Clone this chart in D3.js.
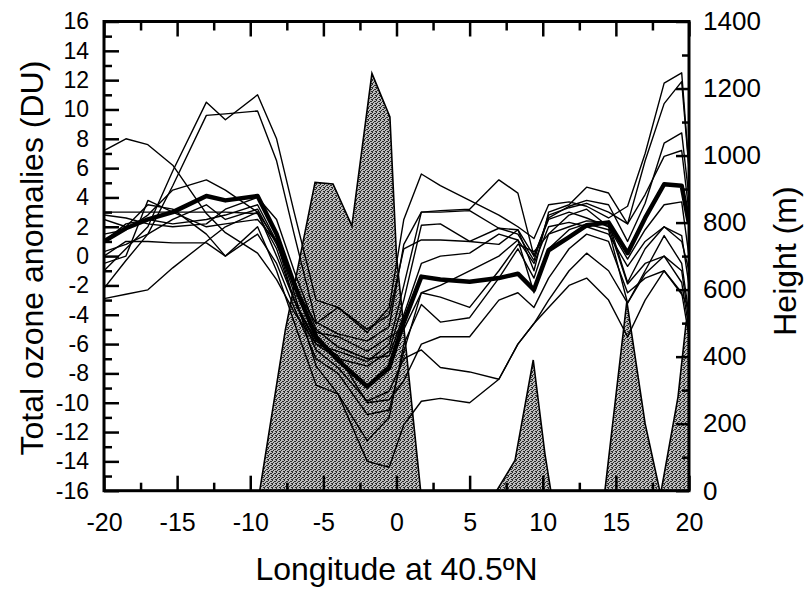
<!DOCTYPE html>
<html>
<head>
<meta charset="utf-8">
<script src="https://cdn.jsdelivr.net/npm/d3@7"></script>
<style>
  body { margin: 0; background: #fff; }
  svg text { font-family: "Liberation Sans", Arial, sans-serif; fill: #000; }
</style>
</head>
<body>
<svg width="804" height="594"></svg>
<script>
// longitudes where the ozone anomaly profiles are sampled
var lons = [-20, -18.5, -17, -15.3, -13, -11.7, -9.5, -8.2, -7, -5.5, -4, -2, -0.5, 0.5, 1.7, 3, 5, 7, 8.3, 9.4, 10.4, 11.8, 13, 14.5, 15.8, 17, 18.3, 19.5, 20];

// individual profiles (DU)
var s01 = [7.2, 8.0, 7.6, 6.2, 2.9, 1.6, 0.2, -1.6, -3.8, -6.0, -6.5, -7.2, -6.0, -2.0, 3.0, 3.1, 3.2, 5.2, 4.3, 0.0, 2.6, 3.4, 3.8, 3.5, 1.0, 3.6, 7.7, 8.4, 4.0];
var s02 = [-1.0, 0.5, 2.0, 5.8, 10.5, 9.3, 11.0, 8.0, 3.0, -3.0, -3.5, -5.2, -3.5, 2.5, 5.6, 4.8, 3.8, 2.8, 2.0, 1.2, 3.5, 3.7, 3.4, 2.6, 3.4, 7.0, 11.8, 12.5, 6.0];
var s03 = [-2.2, -0.3, 1.5, 4.8, 9.6, 9.7, 9.9, 6.5, 1.5, -4.5, -5.3, -5.8, -4.8, 0.8, 3.0, 3.0, 3.1, 1.9, 1.5, -0.3, 2.8, 3.3, 3.6, 3.0, 2.2, 6.5, 10.4, 11.9, 5.9];
var s04 = [-2.9, -2.6, -2.3, -0.8, 1.0, 2.0, 3.0, 1.0, -2.5, -7.5, -9.4, -14.0, -14.4, -11.5, -9.9, -9.7, -10.0, -8.4, -6.0, -4.6, -3.5, -2.0, -1.5, -3.0, -5.5, -3.0, -1.0, -2.5, -5.5];
var s05 = [3.0, 3.0, 3.0, 3.0, 3.0, 3.0, 2.9, 0.5, -3.0, -6.4, -7.6, -9.9, -9.2, -7.0, -6.4, -7.6, -7.9, -8.4, -6.0, -4.6, -3.0, -1.0, 0.2, -1.0, -3.2, -1.0, 1.4, -0.5, -4.0];
var s06 = [0.0, 1.0, 1.0, 0.9, 0.9, 0.0, 1.5, -0.5, -3.5, -7.0, -8.0, -10.8, -10.5, -6.5, -2.5, -2.0, -1.0, 0.0, 1.1, -0.5, 2.0, 2.3, 2.0, 1.5, -0.7, 1.0, 2.0, 1.0, -1.0];
var s07 = [1.5, 1.8, 2.8, 4.5, 5.2, 4.5, 3.0, 0.0, -3.0, -6.0, -7.0, -7.5, -6.5, -3.0, 2.1, 2.2, 1.0, 1.9, 1.8, -1.0, 3.0, 3.5, 4.7, 4.3, 2.2, 4.2, 6.8, 7.2, 3.0];
var s08 = [0.3, 0.8, 1.5, 2.5, 3.5, 2.5, 3.2, 0.8, -2.0, -5.2, -5.5, -6.5, -5.5, -5.0, -2.5, -2.8, -3.5, -1.0, 0.8, 0.3, 1.5, 2.0, 2.4, 2.3, -1.8, 0.5, 2.0, 1.4, -2.0];
var s09 = [2.5, 2.0, 3.5, 3.2, 1.5, 0.0, 2.0, -1.0, -4.5, -8.8, -9.4, -12.6, -11.0, -6.0, -3.3, -4.5, -4.2, -1.5, 0.5, -1.5, 1.5, 2.8, 3.2, 2.0, -1.9, -0.5, 0.0, -1.8, -5.0];
var s10 = [1.0, 2.2, 2.5, 2.2, 2.5, 2.8, 3.5, 1.0, -2.0, -4.6, -3.5, -5.0, -4.0, 0.5, 1.1, 1.1, 1.0, 0.8, 1.8, 0.0, 2.5, 3.0, 2.6, 2.0, -0.2, 1.8, 3.5, 3.7, 0.0];
var s11 = [2.8, 2.6, 2.2, 2.0, 2.2, 3.2, 4.0, 2.5, -1.0, -5.0, -6.2, -7.0, -6.8, -4.0, -0.5, 0.0, 0.2, 1.5, 1.1, -2.5, 0.5, 1.8, 2.2, 1.8, -3.2, -1.2, 0.0, -1.0, -4.5];
var s12 = [-0.5, 0.0, 3.8, 3.0, 2.0, 2.2, 2.5, 1.0, -3.0, -5.8, -6.8, -10.0, -9.8, -8.5, -6.0, -5.5, -5.5, -3.0, -2.5, -3.5, -1.5, 0.5, 1.5, 1.0, -2.5, -1.5, -1.0, -2.6, -3.5];

// mean profile (thick line)
var meanLine = [1.0, 1.9, 2.5, 3.0, 4.1, 3.8, 4.1, 1.5, -1.9, -5.5, -7.1, -8.9, -7.6, -4.5, -1.4, -1.6, -1.75, -1.5, -1.2, -2.3, 0.4, 1.3, 2.1, 2.3, 0.2, 2.6, 4.9, 4.8, 2.2];

// terrain height along 40.5N (m)
var terrainLon = [-20, -9.35, -7.6, -5.57, -4.34, -3.05, -1.68, -0.45, 0.0, 1.65, 6.85, 8.1, 9.35, 10.15, 10.55, 14.25, 15.75, 17.0, 18.0, 18.1, 19.25, 19.8, 20];
var terrainH = [0, 0, 480, 920, 915, 790, 1245, 1115, 700, 0, 0, 90, 390, 110, 0, 0, 565, 200, 0, 0, 280, 500, 530];

var lonTicks = [-20, -15, -10, -5, 0, 5, 10, 15, 20];
var duTicks = d3.range(-16, 17, 2);
var hTicks = [0, 200, 400, 600, 800, 1000, 1200, 1400];

var profiles = [s01, s02, s03, s04, s05, s06, s07, s08, s09, s10, s11, s12];

var svg = d3.select("svg");
var L = 104, R = 689, T = 21.5, B = 490.7;

var x = d3.scaleLinear().domain([-20, 20]).range([L, R]);
var y = d3.scaleLinear().domain([-16, 16]).range([B, T]);
var yH = d3.scaleLinear().domain([0, 1400]).range([B, T]);

// halftone-ish pattern for the terrain
var defs = svg.append("defs");
var pat = defs.append("pattern").attr("id", "ht")
    .attr("width", 4).attr("height", 4).attr("patternUnits", "userSpaceOnUse");
pat.append("rect").attr("width", 4).attr("height", 4).attr("fill", "#bdbdbd");
[[0, 0], [2, 1], [1, 2], [3, 3], [3, 1], [0, 3]].forEach(function(p) {
    pat.append("rect").attr("x", p[0]).attr("y", p[1]).attr("width", 1).attr("height", 1).attr("fill", "#2a2a2a");
});
defs.append("clipPath").attr("id", "plotclip")
    .append("rect").attr("x", L).attr("y", T).attr("width", R - L).attr("height", B - T);

var terrain = terrainLon.map(function(l, i) { return [l, terrainH[i]]; });

var plot = svg.append("g").attr("clip-path", "url(#plotclip)");

plot.append("path")
    .datum(terrain)
    .attr("d", d3.area().x(d => x(d[0])).y0(B).y1(d => yH(d[1])))
    .attr("fill", "url(#ht)");

plot.append("path")
    .datum(terrain)
    .attr("d", d3.line().x(d => x(d[0])).y(d => yH(d[1])))
    .attr("fill", "none")
    .attr("stroke", "#000")
    .attr("stroke-width", 1.6);

var line = d3.line().x((d, i) => x(lons[i])).y(d => y(d));

plot.selectAll("path.prof")
    .data(profiles)
    .enter()
        .append("path")
        .attr("class", "prof")
        .attr("d", line)
        .attr("fill", "none")
        .attr("stroke", "#000")
        .attr("stroke-width", 1.4)
        .attr("stroke-linejoin", "round");

plot.append("path")
    .datum(meanLine)
    .attr("d", line)
    .attr("fill", "none")
    .attr("stroke", "#000")
    .attr("stroke-width", 4.5)
    .attr("stroke-linejoin", "round");

function fmt(d) { return String(d); }

function addAxis(axis, tx, ty, fontSize) {
    var g = svg.append("g").attr("transform", "translate(" + tx + "," + ty + ")").call(axis);
    g.select(".domain").remove();
    g.selectAll(".tick line").attr("stroke", "#000").attr("stroke-width", 2.5);
    g.selectAll("text").attr("font-size", fontSize).attr("font-family", "Liberation Sans, Arial, sans-serif");
    return g;
}

// minor ticks
addAxis(d3.axisLeft(y).tickValues(d3.range(-15, 16, 2)).tickSize(-8).tickFormat(""), L, 0, 0);
addAxis(d3.axisRight(yH).tickValues(d3.range(100, 1400, 200)).tickSize(-7).tickFormat(""), R, 0, 0);
addAxis(d3.axisBottom(x).tickValues(d3.range(-17.5, 20, 5)).tickSize(-8).tickFormat(""), 0, B, 0);
addAxis(d3.axisTop(x).tickValues(d3.range(-17.5, 20, 5)).tickSize(-9).tickFormat(""), 0, T, 0);

// major ticks and labels
addAxis(d3.axisLeft(y).tickValues(duTicks).tickSize(-15).tickPadding(15).tickFormat(fmt), L, 0, 23);
addAxis(d3.axisRight(yH).tickValues(hTicks).tickSize(-13).tickPadding(14).tickFormat(fmt), R, 0, 26);
addAxis(d3.axisBottom(x).tickValues(lonTicks).tickSize(-15).tickPadding(14).tickFormat(fmt), 0, B, 25)
    .selectAll("text").attr("dy", "1.05em");
addAxis(d3.axisTop(x).tickValues(lonTicks).tickSize(-15).tickFormat(""), 0, T, 0);

// frame
svg.append("rect")
    .attr("x", L).attr("y", T)
    .attr("width", R - L).attr("height", B - T)
    .attr("fill", "none")
    .attr("stroke", "#000")
    .attr("stroke-width", 3);

// titles
svg.append("text")
    .attr("transform", "translate(43," + ((T + B) / 2 + 2) + ") rotate(-90)")
    .attr("text-anchor", "middle")
    .attr("font-size", 32)
    .text("Total ozone anomalies (DU)");

svg.append("text")
    .attr("transform", "translate(796," + ((T + B) / 2 + 5) + ") rotate(-90)")
    .attr("text-anchor", "middle")
    .attr("font-size", 32)
    .text("Height (m)");

svg.append("text")
    .attr("x", (L + R) / 2)
    .attr("y", 580)
    .attr("text-anchor", "middle")
    .attr("font-size", 32)
    .text("Longitude at 40.5ºN");
</script>
</body>
</html>
